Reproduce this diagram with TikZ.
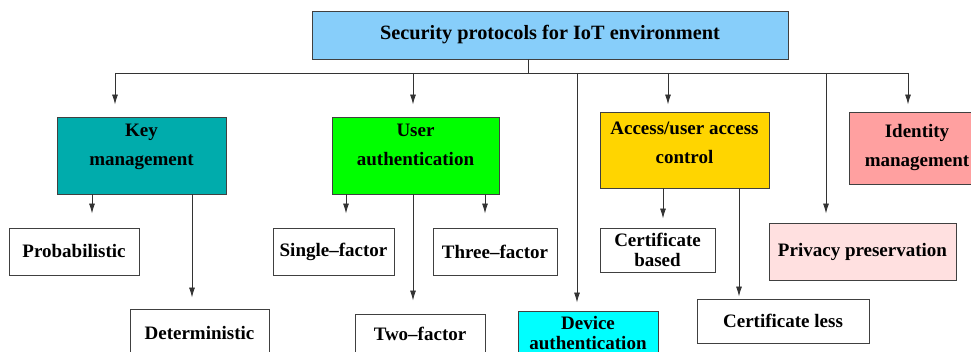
\documentclass[tikz,border=0pt]{standalone}
\usepackage{fontspec}
\setmainfont{Liberation Serif}
\usetikzlibrary{arrows.meta}

\definecolor{topblue}{RGB}{135,206,250}
\definecolor{keyteal}{RGB}{0,172,172}
\definecolor{usergreen}{RGB}{0,255,0}
\definecolor{devcyan}{RGB}{0,255,255}
\definecolor{accgold}{RGB}{255,213,0}
\definecolor{idpink}{RGB}{255,160,160}
\definecolor{privpink}{RGB}{255,224,224}

\begin{document}
\begin{tikzpicture}[x=1pt, y=-1pt,
    box/.style={draw=black!75, line width=0.9pt, align=center, inner sep=2pt,
        font=\bfseries\fontsize{19}{29}\selectfont},
    tight/.style={font=\bfseries\fontsize{19}{20}\selectfont},
    wire/.style={draw=black!80, line width=0.9pt},
    arr/.style={wire, -{Latex[length=10pt,width=6pt]}}
]
    \useasboundingbox (0,0) rectangle (971,352);

    % Root
    \node[box, font=\bfseries\fontsize{20.3}{24}\selectfont, fill=topblue,
        minimum width=476, minimum height=48] (top) at (550,35)
        {Security protocols for IoT environment};

    % First level (text depth lifts the two lines a little)
    \node[box, fill=keyteal, text depth=22pt, minimum width=169, minimum height=77] (key) at (141.5,155.5)
        {Key\\management};
    \node[box, fill=usergreen, text depth=22pt, minimum width=167, minimum height=77] (user) at (415.5,155.5)
        {User\\authentication};
    \node[box, tight, fill=devcyan, minimum width=140, minimum height=44] (device) at (588,333)
        {Device\\authentication};
    \node[box, fill=accgold, text depth=14pt, minimum width=169, minimum height=76] (access) at (684.5,150)
        {Access/user access\\control};
    \node[box, fill=privpink, minimum width=187, minimum height=57] (privacy) at (862.5,251.5)
        {Privacy preservation};
    \node[box, fill=idpink, minimum width=136, minimum height=72] (ident) at (917,148)
        {Identity\\management};

    % Second level
    \node[box, minimum width=130, minimum height=47] (prob) at (74,251.5) {Probabilistic};
    \node[box, minimum width=139, minimum height=48] (determ) at (199.5,333) {Deterministic};
    \node[box, minimum width=121, minimum height=47] (single) at (333.5,251.5) {Single--factor};
    \node[box, minimum width=130, minimum height=40] (two) at (420,334) {Two--factor};
    \node[box, minimum width=124, minimum height=47] (three) at (495,251.5) {Three--factor};
    \node[box, tight, text depth=0pt, minimum width=115, minimum height=44] (certb) at (657.5,250)
        {Certificate\\based};
    \node[box, minimum width=172, minimum height=44] (certl) at (783,321) {Certificate less};

    % Bus under the root
    \coordinate (hub) at (528,73);
    \coordinate (bk) at (115,73);
    \coordinate (bu) at (413,73);
    \coordinate (bd) at (577,73);
    \coordinate (ba) at (668,73);
    \coordinate (bp) at (826,73);
    \coordinate (bi) at (908,73);

    \draw[wire] (top.south -| hub) -- (hub);
    \draw[wire] (bk) -- (bi);
    \foreach \b/\n/\g in {bk/key/12, bu/user/12, bd/device/8, ba/access/7, bp/privacy/9, bi/ident/7}
        \draw[arr, shorten >=\g pt] (\b) -- (\b |- \n.north);

    % Drops to the leaves
    \foreach \x/\p/\c/\g in {92/key/prob/14, 192/key/determ/11, 346/user/single/14,
            413/user/two/13, 485/user/three/14, 663/access/certb/9, 739/access/certl/2}
        \draw[arr, shorten >=\g pt] (\x,0 |- \p.south) -- (\x,0 |- \c.north);
\end{tikzpicture}
\end{document}
